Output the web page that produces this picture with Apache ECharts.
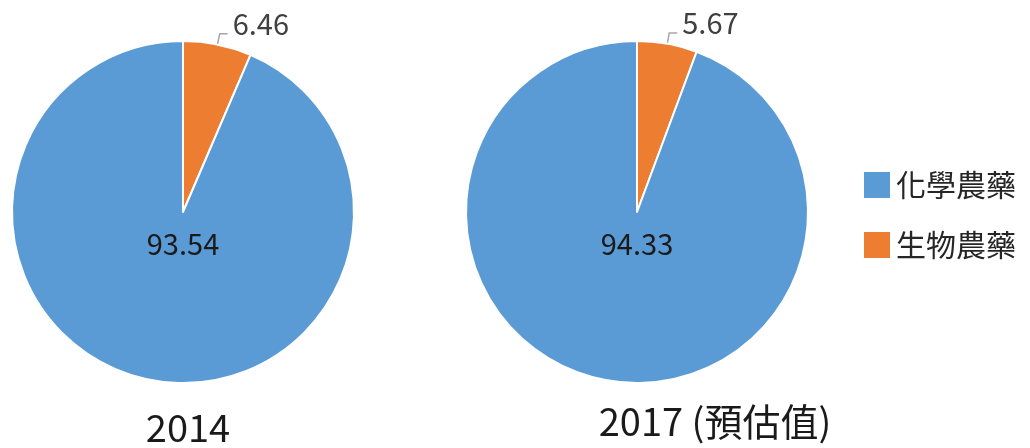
<!DOCTYPE html>
<html>
<head>
<meta charset="utf-8">
<script src="https://cdn.jsdelivr.net/npm/echarts@6/dist/echarts.min.js"></script>
<style>
  html, body { margin: 0; padding: 0; background: #fff; }
  #chart { width: 1030px; height: 448px; }
</style>
</head>
<body>
<div id="chart"></div>
<script>
var names = ['化學農藥', '生物農藥'];
var years = ['2014', '2017 (預估值)'];
var chemical = [93.54, 94.33];
var biological = [6.46, 5.67];

var FONT = '"Noto Sans CJK TC", "Noto Sans", sans-serif';
var BLUE = '#5b9bd5';
var ORANGE = '#ed7d31';
var centersX = [183, 637];

var myChart = echarts.init(document.getElementById('chart'));

function pieSeries(i) {
  return {
    type: 'pie',
    name: years[i],
    center: [centersX[i], 212],
    radius: 171,
    startAngle: 90,
    clockwise: true,
    avoidLabelOverlap: false,
    animation: false,
    itemStyle: { borderColor: '#fff', borderWidth: 2 },
    labelLine: { length: 11, length2: 8, lineStyle: { color: '#a6a6a6', width: 1.5 } },
    data: [
      {
        name: names[1],
        value: biological[i],
        itemStyle: { color: ORANGE },
        label: {
          position: 'outside',
          // empty line below pushes the number up so the line meets its bottom
          formatter: '{v|{c}}\n{pad|}',
          rich: {
            v: { fontFamily: FONT, fontSize: 29, color: '#404040', lineHeight: 30 },
            pad: { lineHeight: 20 }
          }
        }
      },
      {
        name: names[0],
        value: chemical[i],
        itemStyle: { color: BLUE },
        label: {
          position: 'center',
          // empty line above moves the number below the centre
          formatter: '{pad|}\n{v|{c}}',
          rich: {
            v: { fontFamily: FONT, fontSize: 29, color: '#1a1a1a', lineHeight: 30 },
            pad: { lineHeight: 64 }
          }
        },
        labelLine: { show: false }
      }
    ]
  };
}

myChart.setOption({
  title: [
    {
      text: years[0], left: 183, top: 404, textAlign: 'center',
      textStyle: { fontFamily: FONT, fontSize: 38, fontWeight: 'normal', color: '#1a1a1a' }
    },
    {
      text: years[1], left: 710, top: 398, textAlign: 'center',
      textStyle: { fontFamily: FONT, fontSize: 38, fontWeight: 'normal', color: '#1a1a1a' }
    }
  ],
  legend: {
    orient: 'vertical',
    left: 857,
    top: 165,
    itemWidth: 28,
    itemHeight: 28,
    itemGap: 30,
    icon: 'rect',
    data: names,
    textStyle: { fontFamily: FONT, fontSize: 30, color: '#262626' }
  },
  series: [pieSeries(0), pieSeries(1)]
});
</script>
</body>
</html>
